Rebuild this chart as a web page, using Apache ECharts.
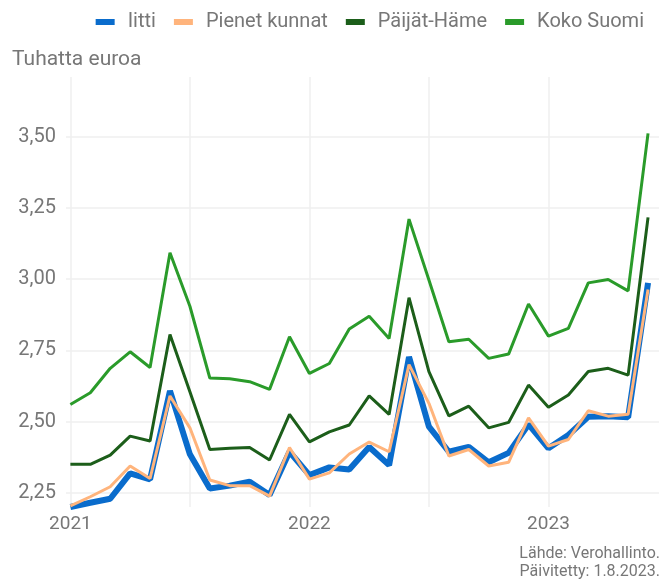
<!DOCTYPE html>
<html>
<head>
<meta charset="utf-8">
<script src="https://cdn.jsdelivr.net/npm/echarts@6/dist/echarts.min.js"></script>
<style>
  html, body { margin: 0; padding: 0; background: #fff; }
  #chart { width: 669px; height: 579px; }
</style>
</head>
<body>
<div id="chart"></div>
<script>
// kuukaudet 2021-01 ... 2023-06
var months = [
  '2021-01','2021-02','2021-03','2021-04','2021-05','2021-06','2021-07','2021-08','2021-09','2021-10','2021-11','2021-12',
  '2022-01','2022-02','2022-03','2022-04','2022-05','2022-06','2022-07','2022-08','2022-09','2022-10','2022-11','2022-12',
  '2023-01','2023-02','2023-03','2023-04','2023-05','2023-06'
];
var iitti = [2.20,2.215,2.229,2.318,2.297,2.608,2.385,2.265,2.275,2.289,2.242,2.394,
             2.312,2.339,2.332,2.411,2.347,2.727,2.482,2.394,2.411,2.357,2.39,2.49,
             2.406,2.453,2.517,2.519,2.515,2.987];
var pienet = [2.204,2.236,2.271,2.344,2.30,2.59,2.478,2.295,2.275,2.275,2.238,2.409,
              2.298,2.32,2.386,2.428,2.394,2.70,2.564,2.379,2.402,2.344,2.357,2.513,
              2.414,2.437,2.538,2.519,2.526,2.964];
var paijatHame = [2.35,2.35,2.382,2.449,2.432,2.806,2.605,2.402,2.406,2.409,2.365,2.525,
                  2.429,2.464,2.488,2.59,2.525,2.935,2.675,2.52,2.554,2.478,2.497,2.628,
                  2.55,2.593,2.676,2.687,2.663,3.217];
var kokoSuomi = [2.56,2.601,2.687,2.745,2.69,3.093,2.905,2.653,2.65,2.64,2.613,2.798,
                 2.669,2.704,2.825,2.87,2.792,3.211,2.997,2.78,2.789,2.722,2.737,2.913,
                 2.80,2.827,2.987,2.999,2.959,3.512];
var yTicks = [2.25, 2.5, 2.75, 3.0, 3.25, 3.5];
var xGridMonths = ['2021-01','2021-07','2022-01','2022-07','2023-01'];
var xLabelMonths = ['2021-01','2022-01','2023-01'];

(function(){
    var myChart = echarts.init(document.getElementById('chart'));
    // kuukausi -> järjestysnumero x-akselilla
    function idx(m){ return months.indexOf(m); }
    function pairs(arr){ return arr.map(function(v,i){ return [i, v]; }); }
    var font = 'Roboto, "Liberation Sans", sans-serif';
    var grey = '#777';

    var option = {
        animation: false,
        textStyle: { fontFamily: font },
        color: ['#0a6ccc', '#ffb47c', '#1c5e1a', '#2a9b2a'],
        grid: { left: 66, right: 10, top: 77, bottom: 72, containLabel: false },
        legend: {
            data: ['Iitti', 'Pienet kunnat', 'Päijät-Häme', 'Koko Suomi'],
            right: 20, top: 7,
            icon: 'rect', itemWidth: 19, itemHeight: 6, itemGap: 18,
            textStyle: { color: grey, fontSize: 20, fontFamily: font, padding: [0, 0, 0, 8] }
        },
        graphic: [
            { type: 'text', left: 12, top: 49,
              style: { text: 'Tuhatta euroa', fill: grey, font: '21px ' + font } },
            { type: 'text', right: 9, top: 545,
              style: { text: 'Lähde: Verohallinto.\nPäivitetty: 1.8.2023.', fill: grey,
                       font: '16px ' + font, textAlign: 'right', lineHeight: 18 } }
        ],
        xAxis: {
            type: 'value', min: -0.22, max: 29.55,
            axisLine: { show: false },
            axisTick: { show: false, customValues: xGridMonths.map(idx) },
            splitLine: { show: true, lineStyle: { color: '#efefef', width: 1.5 } },
            axisLabel: {
                customValues: xLabelMonths.map(idx),
                color: grey, fontSize: 19, margin: 8,
                formatter: function(v){ return months[Math.round(v)].slice(0,4); }
            }
        },
        yAxis: {
            type: 'value', min: 2.2, max: 3.71,
            axisLine: { show: false },
            axisTick: { show: false, customValues: yTicks },
            splitLine: { show: true, lineStyle: { color: '#efefef', width: 1.5 } },
            axisLabel: {
                customValues: yTicks,
                color: grey, fontSize: 20, margin: 10,
                formatter: function(v){ return v.toFixed(2).replace('.', ','); }
            }
        },
        series: [
            { name: 'Iitti', type: 'line', data: pairs(iitti), showSymbol: false,
              lineStyle: { width: 6 } },
            { name: 'Pienet kunnat', type: 'line', data: pairs(pienet), showSymbol: false,
              lineStyle: { width: 3 } },
            { name: 'Päijät-Häme', type: 'line', data: pairs(paijatHame), showSymbol: false,
              lineStyle: { width: 3 } },
            { name: 'Koko Suomi', type: 'line', data: pairs(kokoSuomi), showSymbol: false,
              lineStyle: { width: 3 } }
        ]
    };
    myChart.setOption(option);
})();
</script>
</body>
</html>
